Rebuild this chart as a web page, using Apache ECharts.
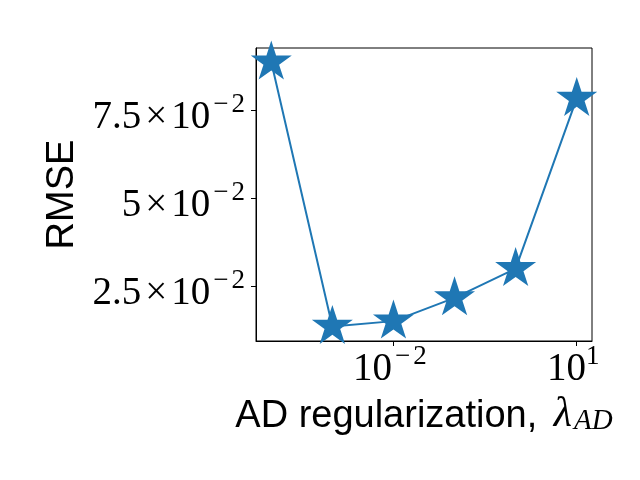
<!DOCTYPE html>
<html>
<head>
<meta charset="utf-8">
<script src="https://cdn.jsdelivr.net/npm/echarts@6/dist/echarts.min.js"></script>
<style>html,body{margin:0;padding:0;background:#fff;}#c{width:640px;height:480px;}</style>
</head>
<body>
<div id="c"></div>
<script>
const xValues = [1e-4, 1e-3, 1e-2, 1e-1, 1, 10];
const rmse = [0.0886, 0.0136, 0.0151, 0.0217, 0.0300, 0.0783];
const xTickValues = [0.01, 10];
const xTickExponents = ['−2', '1'];
const yTickValues = [0.025, 0.05, 0.075];
const yTickMantissas = ['2.5', '5', '7.5'];
const yTickExponents = ['−2', '−2', '−2'];

function findIdx(arr, v) {
  for (let i = 0; i < arr.length; i++) {
    if (Math.abs(arr[i] - v) <= Math.abs(arr[i]) * 1e-6) return i;
    if (Math.abs(Math.log10(arr[i]) - v) < 1e-6) return i;
  }
  return -1;
}
function supText(e) {
  if (e.charAt(0) === '−') return '{sm|−}{s|' + e.slice(1) + '}';
  return '{s|' + e + '}';
}

const STAR = 'path://M0 -100 L22.45 -30.9 L95.11 -30.9 L36.33 11.8 L58.78 80.9 L0 38.2 L-58.78 80.9 L-36.33 11.8 L-95.11 -30.9 L-22.45 -30.9 Z';
const serif = 'Liberation Serif';
const sans = 'Liberation Sans';
const FS = 39;
const SUP = 27;
const NFS = 38;

const tickRich = {
  m: { fontFamily: serif, fontSize: FS, color: '#000', lineHeight: 46, verticalAlign: 'bottom' },
  x: { fontFamily: serif, fontSize: FS, color: '#000', lineHeight: 46, verticalAlign: 'bottom', padding: [0, 4, 0, 4] },
  s: { fontFamily: serif, fontSize: SUP, color: '#000', lineHeight: 33, verticalAlign: 'top' },
  sm: { fontFamily: serif, fontSize: SUP, color: '#000', lineHeight: 33, verticalAlign: 'top', padding: [0, 3, 0, 3] }
};

const chart = echarts.init(document.getElementById('c'));
chart.setOption({
  animation: false,
  backgroundColor: '#fff',
  grid: {
    left: 256, right: 48, top: 48, bottom: 139,
    show: true, borderColor: '#000', borderWidth: 1, backgroundColor: 'transparent',
    containLabel: false, outerBoundsMode: 'none'
  },
  xAxis: {
    type: 'log', logBase: 10,
    min: Math.pow(10, -4.25), max: Math.pow(10, 1.25),
    axisLine: { show: true, lineStyle: { color: '#000', width: 1 } },
    splitLine: { show: false },
    minorTick: { show: false },
    axisTick: { show: true, length: 5, lineStyle: { color: '#000', width: 1 }, customValues: xTickValues },
    axisLabel: {
      show: true, margin: 2, customValues: xTickValues,
      padding: [0, 7, 0, 0],
      formatter: function (v) {
        const i = findIdx(xTickValues, v);
        return i < 0 ? '' : '{m|10}' + supText(xTickExponents[i]);
      },
      rich: tickRich
    },
    name: '{n|AD regularization, }{l|λ}{a|AD}',
    nameLocation: 'middle', nameGap: 42,
    nameTextStyle: {
      rich: {
        n: { fontFamily: sans, fontSize: NFS, color: '#000', lineHeight: 46, verticalAlign: 'bottom' },
        l: { fontFamily: serif, fontStyle: 'italic', fontSize: 42, color: '#000', lineHeight: 46, verticalAlign: 'bottom', padding: [0, 0, 0, 6] },
        a: { fontFamily: serif, fontStyle: 'italic', fontSize: 29, color: '#000', lineHeight: 27, verticalAlign: 'bottom', padding: [0, 0, 0, 2] }
      }
    }
  },
  yAxis: {
    type: 'value',
    min: 0.00946, max: 0.0926,
    axisLine: { show: true, lineStyle: { color: '#000', width: 1 } },
    splitLine: { show: false },
    axisTick: { show: true, length: 5, lineStyle: { color: '#000', width: 1 }, customValues: yTickValues },
    axisLabel: {
      show: true, margin: 11, customValues: yTickValues,
      padding: [8, 0, 0, 0],
      formatter: function (v) {
        const i = findIdx(yTickValues, v);
        return i < 0 ? '' : '{m|' + yTickMantissas[i] + '}{x|×}{m|10}' + supText(yTickExponents[i]);
      },
      rich: tickRich
    },
    name: 'RMSE',
    nameLocation: 'middle', nameRotate: 90, nameGap: 174,
    nameTextStyle: { fontFamily: sans, fontSize: NFS, color: '#000' }
  },
  series: [{
    type: 'line',
    data: xValues.map((x, i) => [x, rmse[i]]),
    symbol: STAR,
    symbolSize: [41, 39],
    symbolOffset: [0, -2],
    symbolKeepAspect: false,
    showSymbol: true,
    showAllSymbol: true,
    clip: true,
    itemStyle: { color: '#1f77b4', borderWidth: 0 },
    lineStyle: { color: '#1f77b4', width: 2 },
    emphasis: { disabled: true }
  }]
});
</script>
</body>
</html>
